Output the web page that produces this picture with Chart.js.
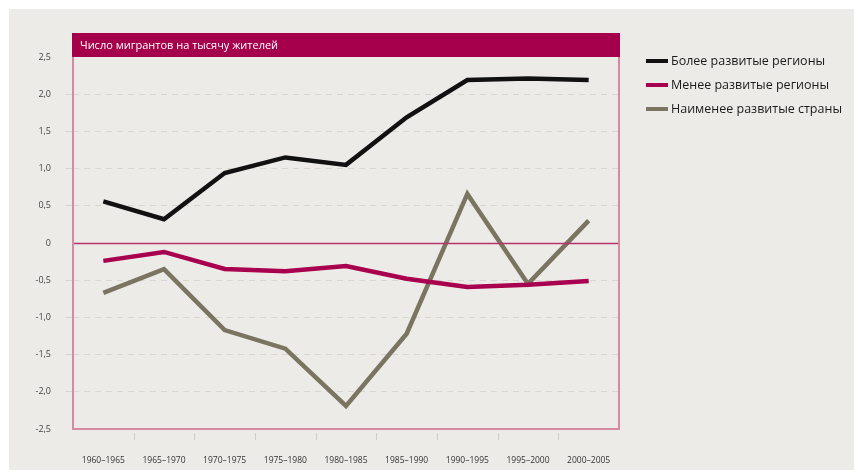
<!DOCTYPE html>
<html>
<head>
<meta charset="utf-8">
<script src="https://cdn.jsdelivr.net/npm/chart.js@4"></script>
<style>
  html, body { margin: 0; padding: 0; background: #ffffff; }
  #wrap { width: 854px; height: 473px; position: relative; }
</style>
</head>
<body>
<div id="wrap"><canvas id="myChart" width="854" height="473"></canvas></div>
<script>
const periods = ["1960–1965", "1965–1970", "1970–1975", "1975–1980", "1980–1985",
                 "1985–1990", "1990–1995", "1995–2000", "2000–2005"];
const moreDeveloped = [0.56, 0.32, 0.94, 1.15, 1.05, 1.69, 2.19, 2.21, 2.19];
const lessDeveloped = [-0.24, -0.12, -0.35, -0.38, -0.31, -0.48, -0.59, -0.56, -0.51];
const leastDeveloped = [-0.67, -0.35, -1.17, -1.42, -2.19, -1.22, 0.66, -0.55, 0.30];
const chartTitle = "Число мигрантов на тысячу жителей";

const bgGrey = "#edebe8";
const magenta = "#a5004c";
const pinkBorder = "#d58aa3";

// background, title bar, plot frame, zero line, x separators, legend
const decor = {
    id: "decor",
    beforeDraw(chart) {
        const c = chart.ctx;
        c.save();
        c.fillStyle = "#ffffff";
        c.fillRect(0, 0, chart.width, chart.height);
        c.fillStyle = bgGrey;
        c.fillRect(9, 9, chart.width - 9, chart.height - 12);
        c.restore();
    },
    afterDatasetsDraw(chart) {
        const c = chart.ctx;
        const a = chart.chartArea;
        const y = chart.scales.y;
        const x = chart.scales.x;
        c.save();

        // zero line
        c.strokeStyle = "#b3336a";
        c.lineWidth = 1.5;
        c.beginPath();
        c.moveTo(a.left, Math.round(y.getPixelForValue(0)) + 0.5);
        c.lineTo(a.right, Math.round(y.getPixelForValue(0)) + 0.5);
        c.stroke();

        // frame
        c.strokeStyle = pinkBorder;
        c.lineWidth = 2;
        c.beginPath();
        c.moveTo(a.left, a.top);
        c.lineTo(a.left, a.bottom);
        c.lineTo(a.right, a.bottom);
        c.lineTo(a.right, a.top);
        c.stroke();

        // title bar
        c.fillStyle = magenta;
        c.fillRect(a.left - 1, 33, a.right - a.left + 2, a.top - 33);
        c.fillStyle = "#ffffff";
        c.font = "11px 'Open Sans'";
        c.textBaseline = "middle";
        c.fillText(chartTitle, a.left + 7, (33 + a.top) / 2 + 1);

        // separators between categories
        c.strokeStyle = "#cfcbc7";
        c.lineWidth = 1;
        for (let i = 1; i < periods.length; i++) {
            const px = Math.round((x.getPixelForValue(i - 1) + x.getPixelForValue(i)) / 2) + 0.5;
            c.beginPath();
            c.moveTo(px, a.bottom + 4);
            c.lineTo(px, a.bottom + 11);
            c.stroke();
        }

        // legend
        c.font = "12.5px 'Open Sans'";
        c.textBaseline = "middle";
        chart.data.datasets.forEach((ds, i) => {
            const ly = 61 + i * 24;
            c.fillStyle = ds.borderColor;
            c.fillRect(646, ly - 2, 22, 4);
            c.fillStyle = "#1a1a1a";
            c.fillText(ds.label, 671, ly);
        });
        c.restore();
    }
};

const ctx = document.getElementById("myChart").getContext("2d");

new Chart(ctx, {
    type: "line",
    plugins: [decor],
    data: {
        labels: periods,
        datasets: [
            {
                label: "Более развитые регионы",
                data: moreDeveloped,
                borderColor: "#111111"
            },
            {
                label: "Менее развитые регионы",
                data: lessDeveloped,
                borderColor: "#a8004f"
            },
            {
                label: "Наименее развитые страны",
                data: leastDeveloped,
                borderColor: "#7a7560"
            }
        ]
    },
    options: {
        responsive: false,
        animation: false,
        layout: {
            padding: { top: 57, right: 235, bottom: 0, left: 0 }
        },
        elements: {
            line: { borderWidth: 4.5, tension: 0, borderJoinStyle: "miter" },
            point: { radius: 0 }
        },
        plugins: {
            legend: { display: false },
            tooltip: { enabled: false }
        },
        scales: {
            x: {
                offset: true,
                afterFit: (axis) => { axis.height = 44; },
                grid: { display: false },
                border: { display: false },
                ticks: {
                    padding: 18,
                    maxRotation: 0,
                    autoSkip: false,
                    color: "#333333",
                    font: { family: "Open Sans", size: 8.5 }
                }
            },
            y: {
                min: -2.5,
                max: 2.5,
                afterFit: (axis) => { axis.width = 73; },
                border: { display: false, dash: [6, 5] },
                grid: {
                    color: (c) => {
                        const v = c.tick ? c.tick.value : null;
                        if (v === null || Math.abs(v) < 1e-9 || Math.abs(Math.abs(v) - 2.5) < 1e-9) {
                            return "rgba(0,0,0,0)";
                        }
                        return "#d9d5d1";
                    },
                    tickLength: 8,
                    lineWidth: 1
                },
                ticks: {
                    stepSize: 0.5,
                    padding: 14,
                    color: "#444444",
                    font: { family: "Open Sans", size: 9 },
                    callback: (v) => v === 0 ? "0" : v.toFixed(1).replace(".", ",")
                }
            }
        }
    }
});
</script>
</body>
</html>
